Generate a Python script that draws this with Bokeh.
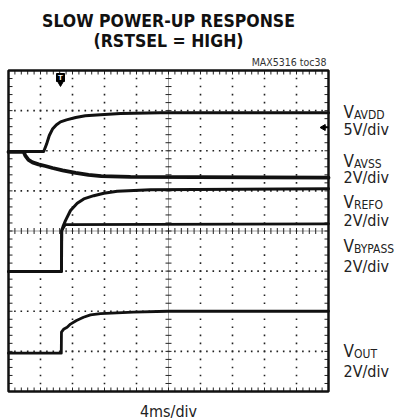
import numpy as np
from bokeh.plotting import figure
from bokeh.models import Range1d
from bokeh.core.properties import value
from bokeh.embed import file_html
from bokeh.resources import INLINE

# ---- scope traces: time in ms (4 ms/div, 10 div), level in divisions (8 div) ----
t_avdd = [0.0, 4.4, 4.75, 5.1, 5.5, 6.0, 6.5, 7.25, 8.4, 9.6, 11.5, 14.0, 19.0, 40.0]
v_avdd = [5.98, 5.98, 6.16, 6.38, 6.54, 6.65, 6.72, 6.77, 6.83, 6.87, 6.90, 6.93, 6.95, 6.95]

t_avss = [0.0, 1.9, 2.1, 2.5, 3.0, 3.75, 4.6, 5.5, 6.75, 8.4, 10.0, 11.6, 15.25, 40.0]
v_avss = [5.97, 5.97, 5.88, 5.77, 5.71, 5.66, 5.62, 5.57, 5.51, 5.45, 5.40, 5.37, 5.35, 5.33]

t_refo = [0.0, 6.62, 6.65, 6.81, 7.12, 7.75, 8.59, 9.41, 10.66, 11.91, 13.59, 17.75, 40.0]
v_refo = [2.99, 2.99, 4.01, 4.11, 4.26, 4.51, 4.69, 4.80, 4.88, 4.94, 4.99, 5.03, 5.05]

t_byp = [0.0, 6.62, 6.65, 7.1, 40.0]
v_byp = [2.99, 2.99, 4.01, 4.16, 4.18]

t_out = [0.0, 6.6, 6.62, 6.88, 7.33, 7.75, 8.5, 9.38, 10.25, 11.5, 15.6, 19.9, 40.0]
v_out = [0.955, 0.955, 1.48, 1.55, 1.60, 1.68, 1.77, 1.85, 1.91, 1.94, 1.98, 2.0, 2.0]

channel_names = ["V", "V", "V", "V", "V"]
channel_subs = ["AVDD", "AVSS", "REFO", "BYPASS", "OUT"]
channel_scales = ["5V/div", "2V/div", "2V/div", "2V/div", "2V/div"]

title_lines = ["SLOW POWER-UP RESPONSE", "(RSTSEL = HIGH)"]
figure_tag = "MAX5316 toc38"
time_scale = "4ms/div"

FONT = "Noto Sans ExtraCondensed, Noto Sans Condensed, DejaVu Sans Condensed, Roboto, sans-serif"

# scope screen edges on the canvas (px)
X0, X1, Y0, Y1 = 8, 328, 70, 391
W, H = 399, 420
T_SPAN, D_SPAN = 40.0, 8.0
PX_T = T_SPAN / (X1 - X0)   # ms per pixel
PX_D = D_SPAN / (Y1 - Y0)   # div per pixel


def tx(px):
    return (px - X0) * PX_T


def ty(py):
    return (Y1 - py) * PX_D


def tb(py, size):
    # baseline position for a text of the given pixel size
    return ty(py - 0.4 * size)


# the frame covers the whole canvas; the scope screen is drawn inside it
p = figure(width=W, height=H, output_backend="svg", toolbar_location=None,
           x_range=Range1d(tx(0), tx(W)), y_range=Range1d(ty(H), ty(0)),
           x_axis_location=None, y_axis_location=None,
           min_border=0, title=None)
p.grid.grid_line_color = None
p.outline_line_color = None
p.background_fill_color = "white"
p.border_fill_color = "white"

# ---- graticule ----
minor_t = np.arange(1, 50) * 0.8
minor_d = np.arange(1, 40) * 0.2
grid_t = [4, 8, 12, 16, 24, 28, 32, 36]
grid_d = [1, 2, 3, 5, 6, 7]

dot_x, dot_y = [], []
for d in grid_d:
    dot_x += list(minor_t)
    dot_y += [d] * len(minor_t)
for t in grid_t:
    dot_x += [t] * len(minor_d)
    dot_y += list(minor_d)
p.scatter(dot_x, dot_y, marker="square", size=1.6, fill_color="#222222", line_color=None)

# center crosshair with minor ticks
p.line([0, T_SPAN], [4, 4], line_color="#888888", line_width=0.8)
p.line([20, 20], [0, D_SPAN], line_color="#888888", line_width=0.8)
p.scatter(minor_t, [4] * len(minor_t), marker="dash", size=6, angle=np.pi / 2,
          line_color="#222222", line_width=1)
p.scatter([20] * len(minor_d), minor_d, marker="dash", size=6,
          line_color="#222222", line_width=1)

# ticks on the inside of the border (4 px long)
tk_t, tk_d = 4 * PX_T, 4 * PX_D
n_t, n_d = len(minor_t), len(minor_d)
p.segment(x0=list(minor_t) * 2, y0=[0] * n_t + [D_SPAN] * n_t,
          x1=list(minor_t) * 2, y1=[tk_d] * n_t + [D_SPAN - tk_d] * n_t,
          line_color="#222222", line_width=1)
p.segment(x0=[0] * n_d + [T_SPAN] * n_d, y0=list(minor_d) * 2,
          x1=[tk_t] * n_d + [T_SPAN - tk_t] * n_d, y1=list(minor_d) * 2,
          line_color="#222222", line_width=1)

# ---- traces ----
trace_kw = dict(line_color="#111111", line_join="round", line_cap="round")
p.line(t_avss, v_avss, line_width=3.8, **trace_kw)
p.line(t_avdd, v_avdd, line_width=3.0, **trace_kw)
p.line(t_refo, v_refo, line_width=3.0, **trace_kw)
p.line(t_byp, v_byp, line_width=2.8, **trace_kw)
p.line(t_out, v_out, line_width=2.8, **trace_kw)

# screen border
p.quad(left=[0], right=[T_SPAN], bottom=[0], top=[D_SPAN], fill_color=None,
       line_color="#111111", line_width=2.5)

# trigger flag
p.scatter([tx(60)], [ty(77)], marker="square", size=8, fill_color="black", line_color="black")
p.scatter([tx(60)], [ty(82.5)], marker="inverted_triangle", size=6, fill_color="black", line_color="black")
p.text([tx(60)], [ty(77)], text=["T"], text_color="white", text_font=value("Liberation Sans"),
       text_font_size="8px", text_font_style="bold", text_align="center", text_baseline="middle")

# ground reference arrow on the right edge
p.scatter([tx(323)], [ty(127)], marker="triangle", size=6, angle=np.pi / 2,
          fill_color="black", line_color="black")
p.line([tx(323), tx(328)], [ty(127), ty(127)], line_color="black", line_width=1.5)

# ---- texts ----
txt_kw = dict(text_font=value(FONT), text_baseline="alphabetic")

p.text([tx(168)] * 2, [tb(27, 17.5), tb(47.5, 17.5)], text=title_lines, text_font_size="17.5px",
       text_font_style="bold", text_align="center", text_color="#111111", **txt_kw)

p.text([tx(326)], [tb(66, 10.5)], text=[figure_tag], text_font_size="10.5px",
       text_align="right", text_color="#333333", **txt_kw)

p.text([tx(168)], [tb(417, 16)], text=[time_scale], text_font_size="16px",
       text_align="center", text_color="#222222", **txt_kw)

name_base = [118, 167, 208, 252, 357]
scale_base = [135, 183, 226, 272, 377]
n = len(channel_names)
p.text([tx(343)] * n, [tb(b, 17) for b in name_base], text=channel_names, text_font_size="17px",
       text_align="left", text_color="#222222", **txt_kw)
p.text([tx(353.5)] * n, [tb(b + 1.5, 12) for b in name_base], text=channel_subs, text_font_size="12px",
       text_align="left", text_color="#222222", **txt_kw)
p.text([tx(343)] * n, [tb(b, 16) for b in scale_base], text=channel_scales, text_font_size="16px",
       text_align="left", text_color="#222222", **txt_kw)

open("out.html", "w").write(file_html(p, INLINE))
